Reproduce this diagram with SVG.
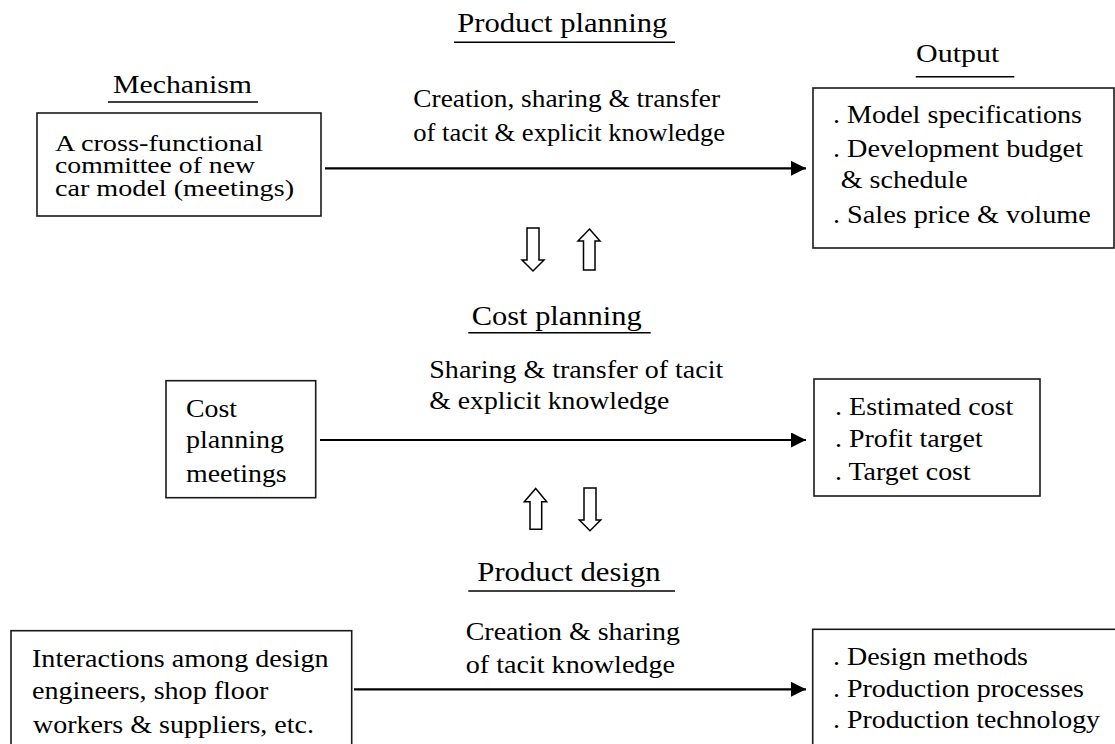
<svg xmlns="http://www.w3.org/2000/svg" width="1115" height="744" viewBox="0 0 1115 744" font-family="'Liberation Serif', 'Times New Roman', Times, serif">
<style>
text{font-family:'Liberation Serif','Times New Roman',Times,serif;font-size:26px;fill:#000}
.tt{font-size:27px}
.sm{font-size:23px}
.box{fill:#fff;stroke:#1a1a1a;stroke-width:1.6}
.ul{stroke:#000;stroke-width:1.6}
.conn{stroke:#000;stroke-width:2.2;fill:none}
.hollow{fill:#fff;stroke:#000;stroke-width:1.5;stroke-linejoin:miter}
</style>
<defs>
<marker id="ah" markerUnits="userSpaceOnUse" markerWidth="16" markerHeight="16" refX="15" refY="7.5" orient="auto">
<path d="M0,0 L15,7.5 L0,15 Z" fill="#000"/>
</marker>
</defs>
<rect width="1115" height="744" fill="#fff"/>

<g id="titles">
<text class="tt" x="457.3" y="31.7" textLength="210" lengthAdjust="spacingAndGlyphs">Product planning</text>
<line class="ul" x1="454" y1="42.3" x2="675" y2="42.3"/>
<text x="113" y="93" textLength="139" lengthAdjust="spacingAndGlyphs">Mechanism</text>
<line class="ul" x1="108" y1="102" x2="258" y2="102"/>
<text x="916" y="61.7" textLength="83.3" lengthAdjust="spacingAndGlyphs">Output</text>
<line class="ul" x1="915.7" y1="76.7" x2="1014.3" y2="76.7"/>
<text class="tt" x="471.7" y="325" textLength="170" lengthAdjust="spacingAndGlyphs">Cost planning</text>
<line class="ul" x1="468.3" y1="332.7" x2="650.7" y2="332.7"/>
<text class="tt" x="477.3" y="580.7" textLength="183.4" lengthAdjust="spacingAndGlyphs">Product design</text>
<line class="ul" x1="468.3" y1="591" x2="675" y2="591"/>
</g>

<g id="connectors">
<line class="conn" x1="325" y1="168.3" x2="806" y2="168.3" marker-end="url(#ah)"/>
<line class="conn" x1="320" y1="440" x2="806" y2="440" marker-end="url(#ah)"/>
<line class="conn" x1="354" y1="689.3" x2="806" y2="689.3" marker-end="url(#ah)"/>
<polygon class="hollow" points="527,228 539,228 539,260 544,260 533,271 522,260 527,260"/>
<polygon class="hollow" points="589.5,229 600,241 595,241 595,270 583.5,270 583.5,241 578,241"/>
<polygon class="hollow" points="535.7,488.5 546.7,501.7 541.7,501.7 541.7,529.3 530,529.3 530,501.7 524.3,501.7"/>
<polygon class="hollow" points="584,488 596,488 596,520 600.7,520 590,530.7 579.3,520 584,520"/>
</g>

<g id="conn-labels">
<text x="413.3" y="106.7" textLength="306.7" lengthAdjust="spacingAndGlyphs">Creation, sharing &amp; transfer</text>
<text x="413.3" y="140.7" textLength="311.7" lengthAdjust="spacingAndGlyphs">of tacit &amp; explicit knowledge</text>
<text x="429.3" y="378.3" textLength="294" lengthAdjust="spacingAndGlyphs">Sharing &amp; transfer of tacit</text>
<text x="429.3" y="409" textLength="240" lengthAdjust="spacingAndGlyphs">&amp; explicit knowledge</text>
<text x="465.7" y="640" textLength="214.3" lengthAdjust="spacingAndGlyphs">Creation &amp; sharing</text>
<text x="465.7" y="672.5" textLength="209.3" lengthAdjust="spacingAndGlyphs">of tacit knowledge</text>
</g>

<g id="mechanism-box">
<rect class="box" x="37" y="113" width="284" height="103"/>
<text class="sm" x="55" y="150.7" textLength="208" lengthAdjust="spacingAndGlyphs">A cross-functional</text>
<text class="sm" x="55" y="173.3" textLength="200" lengthAdjust="spacingAndGlyphs">committee of new</text>
<text class="sm" x="55" y="196.3" textLength="239" lengthAdjust="spacingAndGlyphs">car model (meetings)</text>
</g>

<g id="output-box">
<rect class="box" x="813" y="88" width="301" height="160"/>
<text x="833" y="123.3" textLength="249" lengthAdjust="spacingAndGlyphs">. Model specifications</text>
<text x="833" y="156.7" textLength="250" lengthAdjust="spacingAndGlyphs">. Development budget</text>
<text x="840.7" y="188" textLength="127" lengthAdjust="spacingAndGlyphs">&amp; schedule</text>
<text x="833" y="222.7" textLength="257.7" lengthAdjust="spacingAndGlyphs">. Sales price &amp; volume</text>
</g>

<g id="cost-box">
<rect class="box" x="166" y="380.7" width="149.7" height="117"/>
<text x="186" y="416.7" textLength="51" lengthAdjust="spacingAndGlyphs">Cost</text>
<text x="186" y="448.3" textLength="98" lengthAdjust="spacingAndGlyphs">planning</text>
<text x="186" y="481.7" textLength="100.7" lengthAdjust="spacingAndGlyphs">meetings</text>
</g>

<g id="cost-output-box">
<rect class="box" x="814" y="379" width="226" height="117"/>
<text x="835" y="415" textLength="178.3" lengthAdjust="spacingAndGlyphs">. Estimated cost</text>
<text x="835" y="447.3" textLength="147.7" lengthAdjust="spacingAndGlyphs">. Profit target</text>
<text x="835" y="480" textLength="135.7" lengthAdjust="spacingAndGlyphs">. Target cost</text>
</g>

<g id="design-box">
<rect class="box" x="11" y="630.7" width="340.7" height="130"/>
<text x="32" y="666.7" textLength="296.6" lengthAdjust="spacingAndGlyphs">Interactions among design</text>
<text x="32" y="698.5" textLength="236.3" lengthAdjust="spacingAndGlyphs">engineers, shop floor</text>
<text x="33" y="732.7" textLength="281" lengthAdjust="spacingAndGlyphs">workers &amp; suppliers, etc.</text>
</g>

<g id="design-output-box">
<rect class="box" x="812.7" y="629.3" width="320" height="130"/>
<text x="833" y="665" textLength="195" lengthAdjust="spacingAndGlyphs">. Design methods</text>
<text x="833" y="696.7" textLength="251" lengthAdjust="spacingAndGlyphs">. Production processes</text>
<text x="833" y="728.3" textLength="267" lengthAdjust="spacingAndGlyphs">. Production technology</text>
</g>
</svg>
